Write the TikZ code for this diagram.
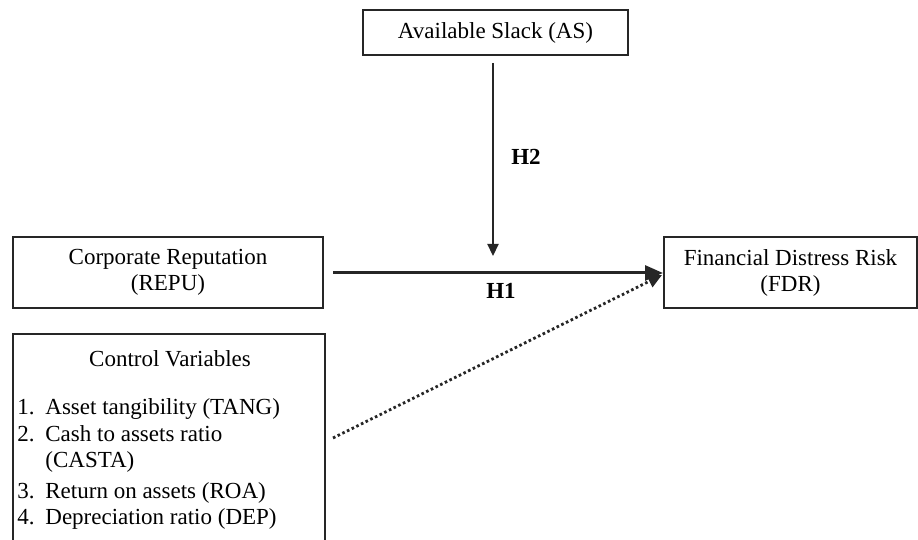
\documentclass[tikz,border=0pt]{standalone}
\usepackage{fontspec}
\setmainfont{Liberation Serif}
\usetikzlibrary{arrows.meta}
\begin{document}
\begin{tikzpicture}[x=0.5pt,y=-0.5pt,
  txt/.style={font=\fontsize{11.5}{13}\selectfont},
  varbox/.style={draw=black!85, line width=0.75pt, txt, align=center, inner sep=0pt},
  item/.style={txt, inner sep=0pt, anchor=base west},
  hlabel/.style={font=\fontsize{11.5}{13}\selectfont\bfseries, inner sep=0pt},
  mainarrow/.style={line width=1.5pt, black!85, -{Triangle[length=9pt,width=7.5pt]}},
  modarrow/.style={line width=1.1pt, black!85, -{Triangle[length=6pt,width=5.5pt]}},
  ctrlarrow/.style={line width=1.4pt, black!85, dash pattern=on 1.3pt off 1.3pt, -{Triangle[length=7pt,width=6.5pt]}}]
\useasboundingbox (0,0) rectangle (918,540);
% boxes
\node[varbox, minimum width=132.5pt, minimum height=22.5pt] (AS) at (495.5,32.5) {Available Slack (AS)};
\node[varbox, minimum width=155pt, minimum height=35.5pt] (REPU) at (168,272.5) {Corporate Reputation\\(REPU)};
\node[varbox, minimum width=126.5pt, minimum height=35.5pt] (FDR) at (790.5,272.5) {Financial Distress Risk\\(FDR)};
\node[draw=black!85, line width=0.75pt, minimum width=156pt, minimum height=107pt, inner sep=0pt] (CV) at (169,441) {};
% control variable texts
\node[txt, inner sep=0pt, anchor=base] (cvt) at (170,367) {Control Variables};
\node[item] (n1) at (17,415) {1.};
\node[item] (t1) at (45,415) {Asset tangibility (TANG)};
\node[item] (n2) at (17,442) {2.};
\node[item] (t2) at (45,442) {Cash to assets ratio};
\node[item] (t2b) at (45,468) {(CASTA)};
\node[item] (n3) at (17,499) {3.};
\node[item] (t3) at (45,499) {Return on assets (ROA)};
\node[item] (n4) at (17,525) {4.};
\node[item] (t4) at (45,525) {Depreciation ratio (DEP)};
% connectors
\coordinate (asout) at (493,63);
\coordinate (modend) at (493,256);
\coordinate (h1start) at (333,273);
\coordinate (cvstart) at (333,438);
\coordinate (h1end) at (663,273);
\draw[modarrow] (asout) -- (modend);
\draw[mainarrow] (h1start) -- (h1end);
\draw[ctrlarrow] (cvstart) -- (662,275);
% labels
\node[hlabel] (H2) at (526,157) {H2};
\node[hlabel] (H1) at (501,291) {H1};
\end{tikzpicture}
\end{document}
